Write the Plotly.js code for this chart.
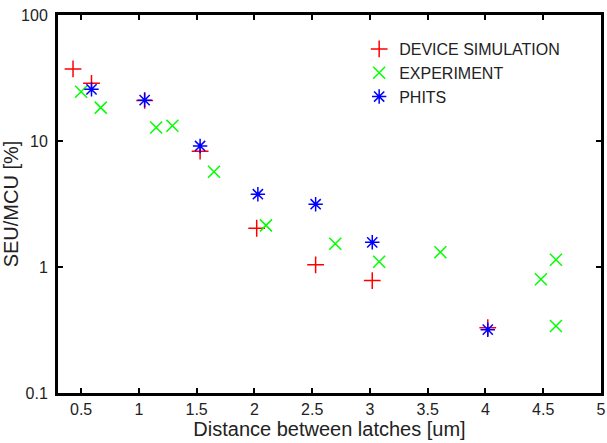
<!DOCTYPE html>
<html>
<head>
<meta charset="utf-8">
<script src="https://cdn.plot.ly/plotly-3.0.1.min.js"></script>
<style>html,body{margin:0;padding:0;background:#fff;}#chart{width:607px;height:443px;}</style>
</head>
<body>
<div id="chart"></div>
<script>
// Data
const simName = "DEVICE SIMULATION";
const simX = [0.43, 0.59, 1.05, 1.53, 2.02, 2.53, 3.02, 4.02];
const simY = [37.3, 28.7, 21.0, 8.3, 2.03, 1.04, 0.78, 0.33];

const expName = "EXPERIMENT";
const expX = [0.50, 0.67, 1.15, 1.29, 1.65, 2.10, 2.70, 3.08, 3.61, 4.48, 4.61, 4.61];
const expY = [24.6, 18.4, 12.8, 13.2, 5.7, 2.14, 1.53, 1.10, 1.31, 0.80, 1.14, 0.34];

const phitsName = "PHITS";
const phitsX = [0.59, 1.05, 1.53, 2.03, 2.53, 3.02, 4.02];
const phitsY = [25.7, 21.1, 9.13, 3.78, 3.15, 1.57, 0.318];

const xTicks = [0.5, 1, 1.5, 2, 2.5, 3, 3.5, 4, 4.5, 5];
const xTickText = ["0.5", "1", "1.5", "2", "2.5", "3", "3.5", "4", "4.5", "5"];
const yTicks = [0.1, 1, 10, 100];
const yTickText = ["0.1", "1", "10", "100"];

const font = "Liberation Sans, Arial, sans-serif";

function tr(name, x, y, symbol, color) {
  return {
    type: "scatter", mode: "markers", name: name, x: x, y: y,
    marker: {symbol: symbol, size: 12, color: color, line: {color: color, width: 1.5}}
  };
}

const data = [
  tr(simName, simX, simY, "cross-thin", "#ff0000"),
  tr(expName, expX, expY, "x-thin", "#00ff00"),
  tr(phitsName, phitsX, phitsY, "asterisk", "#0000ff")
];

const axisCommon = {
  showline: true, linecolor: "#000", linewidth: 3, mirror: "ticks",
  ticks: "inside", ticklen: 5, tickwidth: 2, tickcolor: "#000",
  showgrid: false, zeroline: false,
  tickfont: {family: font, size: 16, color: "#222"}
};

const layout = {
  width: 607, height: 443,
  margin: {l: 58, r: 6, t: 15, b: 50},
  paper_bgcolor: "#fff", plot_bgcolor: "#fff",
  showlegend: true,
  legend: {
    x: 0.934, y: 0.955, xanchor: "right", yanchor: "top",
    bgcolor: "rgba(0,0,0,0)", font: {family: font, size: 16, color: "#222"},
    tracegroupgap: 0, itemwidth: 30
  },
  xaxis: Object.assign({}, axisCommon, {
    range: [0.3, 5], tickvals: xTicks, ticktext: xTickText,
    title: {text: "Distance between latches [um]", font: {family: font, size: 20, color: "#222"}, standoff: 2}
  }),
  yaxis: Object.assign({}, axisCommon, {
    type: "log", range: [-1, 2], tickvals: yTicks, ticktext: yTickText,
    ticklabelstandoff: 4,
    title: {text: "SEU/MCU [%]", font: {family: font, size: 20, color: "#222"}, standoff: 2}
  })
};

Plotly.newPlot("chart", data, layout, {displayModeBar: false, staticPlot: true});
</script>
</body>
</html>
